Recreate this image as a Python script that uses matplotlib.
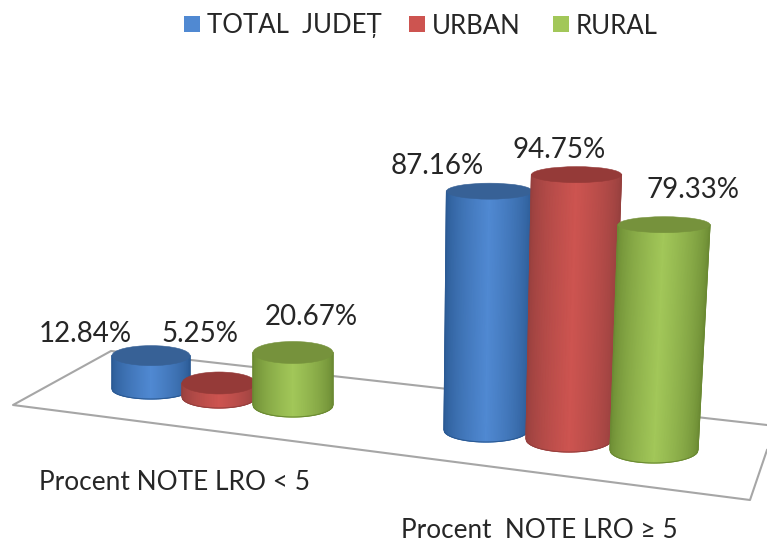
import numpy as np
import matplotlib
matplotlib.use("Agg")
import matplotlib.pyplot as plt
from matplotlib.colors import LinearSegmentedColormap
from matplotlib.patches import Ellipse, Rectangle

plt.rcParams['font.family'] = ['Lato', 'DejaVu Sans']

series = ['TOTAL  JUDEȚ', 'URBAN', 'RURAL']
groups = ['Procent NOTE LRO < 5', 'Procent  NOTE LRO ≥ 5']
values_low = [12.84, 5.25, 20.67]
values_high = [87.16, 94.75, 79.33]

edge_cols = ['#2b5a94', '#96403e', '#6b8a33']
mid_cols = ['#5089d2', '#cd5450', '#a2c759']
top_cols = ['#376196', '#953a38', '#76923c']
text_col = '#262626'

# layout in image pixels: base x, base y, half width base, half width top,
# ellipse half height base, ellipse half height top, lean, px per percent
layout_low = [
    (151, 389, 39, 39, 10, 10, 0, 2.6),
    (219, 397, 37, 37, 11, 11, 0, 2.67),
    (293, 405, 40, 40, 12, 11, 0, 2.54),
]
layout_high = [
    (486, 430, 42, 43, 12, 8, 3.5, 2.74),
    (569, 439, 43, 45, 13, 8, 7.5, 2.79),
    (654, 450, 44, 46, 13, 8, 10, 2.84),
]
label_pos_low = [(85, 334), (200, 334), (311, 317)]
label_pos_high = [(437, 166), (559, 150), (693, 190)]


def cylinder(ax, v, lay, i):
    bx, by, wb, wt, eb, et, lean, k = lay
    tx = bx + lean
    ty = by - k * v
    ts = np.linspace(-1, 1, 121)
    base_x = bx + wb * ts
    base_y = by + eb * np.sqrt(1 - ts ** 2)
    top_x = tx + wt * ts
    top_y = np.full_like(ts, ty)
    X = np.vstack([base_x, top_x])
    Y = np.vstack([base_y, top_y])
    f = (1 - np.abs(ts)) ** 0.65
    C = np.vstack([f, f])
    cmap = LinearSegmentedColormap.from_list('c', [edge_cols[i], mid_cols[i]])
    ax.pcolormesh(X, Y, C, cmap=cmap, vmin=0, vmax=1, shading='gouraud', zorder=3 + i * 0.1)
    # outline softens the jagged mesh edge
    ax.plot(np.r_[top_x[0], base_x, top_x[-1]], np.r_[ty, base_y, ty], color=edge_cols[i], lw=0.8,
            zorder=3 + i * 0.1)
    ax.add_patch(Ellipse((tx, ty), 2 * wt, 2 * et, facecolor=top_cols[i], edgecolor=top_cols[i], lw=0.4,
                         zorder=3.05 + i * 0.1))


fig = plt.figure(figsize=(7.67, 5.43), dpi=100)
ax = fig.add_axes([0, 0, 1, 1])

# floor of the chart
ax.plot([767, 111, 13, 750, 767], [425, 351, 405, 500, 450], color='#a6a6a6', lw=1.5, zorder=1)

for i in range(3):
    cylinder(ax, values_low[i], layout_low[i], i)
for i in range(3):
    cylinder(ax, values_high[i], layout_high[i], i)

for v, p in zip(values_low + values_high, label_pos_low + label_pos_high):
    ax.text(p[0], p[1], f'{v:.2f}%', ha='center', va='center', fontsize=20, color=text_col)

ax.text(39, 483, groups[0], ha='left', va='center', fontsize=18.9, color=text_col)
ax.text(401, 531, groups[1], ha='left', va='center', fontsize=18.8, color=text_col)

# legend
for name, x, col in zip(series, [184, 409, 553], mid_cols):
    ax.add_patch(Rectangle((x, 16), 16, 16, facecolor=col, edgecolor='none'))
    ax.text(x + 23, 26, name, ha='left', va='center', fontsize=18.5, color=text_col)

ax.set_xlim(0, 767)
ax.set_ylim(543, 0)
ax.axis('off')

fig.savefig('out.png', dpi=100)
